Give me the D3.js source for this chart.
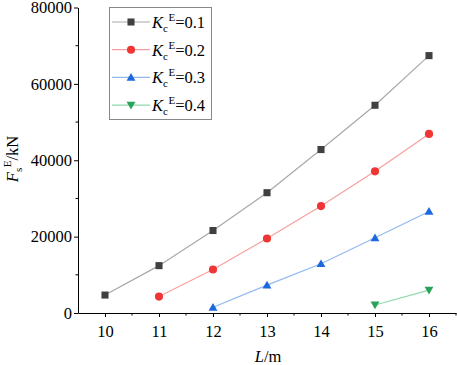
<!DOCTYPE html>
<html><head><meta charset="utf-8">
<script src="https://cdn.jsdelivr.net/npm/d3@7"></script>
<style>body{margin:0;background:#fff}svg{display:block}text{font-family:"Liberation Serif","Times New Roman",serif}</style>
</head><body>
<svg id="c" width="457" height="365"></svg>
<script>
const lengths = [10, 11, 12, 13, 14, 15, 16];
const seriesNames = ["0.1", "0.2", "0.3", "0.4"];
const s01 = [4700, 12400, 21600, 31500, 42800, 54400, 67400];
const s02 = [null, 4300, 11400, 19500, 28000, 37100, 46900];
const s03 = [null, null, 1500, 7300, 12900, 19700, 26600];
const s04 = [null, null, null, null, null, 2100, 6000];
const xTicks = [10, 11, 12, 13, 14, 15, 16];
const yTicks = [0, 20000, 40000, 60000, 80000];

const styles = [
  {marker: d3.symbolSquare, size: 50, fill: "#404040", line: "#a8a8a8", rot: 0},
  {marker: d3.symbolCircle, size: 52, fill: "#f03535", line: "#f5a0a0", rot: 0},
  {marker: d3.symbolTriangle, size: 34, fill: "#1b68e0", line: "#92b8f0", rot: 0},
  {marker: d3.symbolTriangle, size: 34, fill: "#27a35a", line: "#90d8ad", rot: 180}
];
const allSeries = [s01, s02, s03, s04];

const svg = d3.select("#c");
const x = d3.scaleLinear().domain([9.5, 16.5]).range([78, 456]);
const y = d3.scaleLinear().domain([0, 80000]).range([313, 7.5]);

// axes
const xAxis = d3.axisBottom(x).tickValues(xTicks).tickFormat(d3.format("d")).tickSize(4).tickSizeOuter(0);
const gx = svg.append("g").attr("transform", "translate(0,313)").call(xAxis);
gx.selectAll(".tick text").attr("font-size", 16.5).attr("dy", "1.05em").attr("fill", "#000");
const xMinor = d3.range(10.5, 16.6, 1);
gx.selectAll(".minor").data(xMinor).enter().append("line")
  .attr("x1", d => x(d)).attr("x2", d => x(d)).attr("y1", 0).attr("y2", 2.5).attr("stroke", "#000");

const yAxis = d3.axisLeft(y).tickValues(yTicks).tickFormat(d3.format("d")).tickSize(4).tickSizeOuter(0);
const gy = svg.append("g").attr("transform", "translate(78,0)").call(yAxis);
gy.selectAll(".tick text").attr("font-size", 16.5).attr("fill", "#000").attr("x", -6);
const yMinor = d3.range(10000, 80000, 20000);
gy.selectAll(".minor").data(yMinor).enter().append("line")
  .attr("y1", d => y(d)).attr("y2", d => y(d)).attr("x1", 0).attr("x2", -2.5).attr("stroke", "#000");
svg.selectAll(".domain").attr("stroke", "#000");
svg.selectAll(".tick line").attr("stroke", "#000");

// lines and markers
allSeries.forEach((s, i) => {
  const pts = lengths.map((l, j) => ({l, v: s[j]})).filter(p => p.v !== null);
  const st = styles[i];
  svg.append("path").datum(pts)
    .attr("d", d3.line().x(p => x(p.l)).y(p => y(p.v)))
    .attr("fill", "none").attr("stroke", st.line).attr("stroke-width", 1.2);
  svg.selectAll(null).data(pts).enter().append("path")
    .attr("d", d3.symbol().type(st.marker).size(st.size))
    .attr("transform", p => `translate(${x(p.l)},${y(p.v) + (st.marker === d3.symbolTriangle ? (st.rot ? -0.8 : 0.8) : 0)}) rotate(${st.rot})`)
    .attr("fill", st.fill);
});

// legend
const lg = svg.append("g");
lg.append("rect").attr("x", 109.5).attr("y", 7.5).attr("width", 102).attr("height", 112)
  .attr("fill", "#fff").attr("stroke", "#888").attr("stroke-width", 1);
seriesNames.forEach((n, i) => {
  const cy = 22 + i * 27.7;
  const st = styles[i];
  lg.append("line").attr("x1", 112).attr("x2", 150).attr("y1", cy).attr("y2", cy)
    .attr("stroke", st.line).attr("stroke-width", 1.2);
  lg.append("path").attr("d", d3.symbol().type(st.marker).size(st.size))
    .attr("transform", `translate(131,${cy + (st.marker === d3.symbolTriangle ? (st.rot ? -0.8 : 0.8) : 0)}) rotate(${st.rot})`)
    .attr("fill", st.fill);
  const t = lg.append("text").attr("x", 152).attr("y", cy + 6).attr("font-size", 16.5).attr("fill", "#000");
  t.append("tspan").attr("font-style", "italic").text("K");
  t.append("tspan").attr("font-size", 11).attr("dy", 4).text("c");
  t.append("tspan").attr("font-size", 11).attr("dy", -11).attr("dx", 0.5).text("E");
  t.append("tspan").attr("dy", 7).text("=" + n);
});

// axis titles
const yt = svg.append("text").attr("transform", "translate(18,159) rotate(-90)")
  .attr("text-anchor", "middle").attr("font-size", 16.5).attr("fill", "#000");
yt.append("tspan").attr("font-style", "italic").text("F");
yt.append("tspan").attr("font-size", 11).attr("dy", 4).text("s");
yt.append("tspan").attr("font-size", 11).attr("dy", -11).attr("dx", 0.5).text("E");
yt.append("tspan").attr("dy", 7).text("/kN");

const xt = svg.append("text").attr("x", 268).attr("y", 362)
  .attr("text-anchor", "middle").attr("font-size", 16.5).attr("fill", "#000");
xt.append("tspan").attr("font-style", "italic").text("L");
xt.append("tspan").text("/m");
</script>
</body></html>
